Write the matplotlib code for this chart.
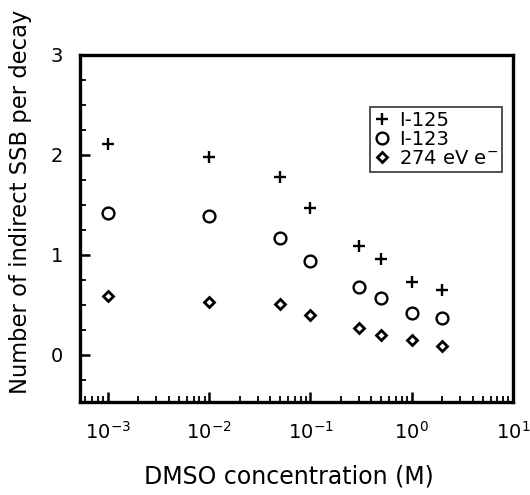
import matplotlib
matplotlib.use("Agg")
import matplotlib.pyplot as plt
from matplotlib.ticker import LogLocator, MultipleLocator, FixedLocator

# DMSO concentration (M)
dmso = [0.001, 0.01, 0.05, 0.1, 0.3, 0.5, 1.0, 2.0]

# indirect SSB per decay
i125 = [2.11, 1.98, 1.78, 1.47, 1.09, 0.96, 0.73, 0.65]
i123 = [1.42, 1.39, 1.17, 0.94, 0.68, 0.57, 0.42, 0.37]
e274 = [0.59, 0.53, 0.51, 0.40, 0.27, 0.20, 0.15, 0.09]

labels = ["I-125", "I-123", "274 eV e$^{-}$"]
yticks = [0, 1, 2, 3]

plt.rcParams["font.family"] = "DejaVu Sans"

fig = plt.figure(figsize=(5.3, 4.95), dpi=100)
ax = fig.add_axes([0.151, 0.188, 0.817, 0.701])

ax.plot(dmso, i125, "+", color="black", markersize=9, markeredgewidth=1.7,
        label=labels[0])
ax.plot(dmso, i123, "o", color="black", markerfacecolor="white",
        markersize=8.5, markeredgewidth=1.7, label=labels[1])
ax.plot(dmso, e274, "D", color="black", markerfacecolor="white",
        markersize=5, markeredgewidth=2.0, label=labels[2])

ax.set_xscale("log")
ax.set_xlim(5.3e-4, 10)
ax.set_ylim(-0.47, 3)

ax.yaxis.set_major_locator(FixedLocator(yticks))
ax.yaxis.set_minor_locator(MultipleLocator(0.25))
ax.xaxis.set_major_locator(LogLocator(base=10, numticks=10))
ax.xaxis.set_minor_locator(LogLocator(base=10, subs=range(2, 10), numticks=20))

for side in ["bottom", "left", "right", "top"]:
    ax.spines[side].set_linewidth(2.4)

ax.tick_params(which="both", direction="in", top=False, right=False,
               labelsize=14)
ax.tick_params(which="major", direction="in", length=7, width=1.8)
ax.tick_params(which="minor", direction="in", length=4, width=1.3)
ax.tick_params(axis="y", which="major", pad=12)
ax.tick_params(axis="x", which="major", pad=14)

ax.set_xlabel("DMSO concentration (M)", fontsize=17)
ax.set_ylabel("Number of indirect SSB per decay", fontsize=16.3)
ax.xaxis.set_label_coords(0.483, -0.18)
ax.yaxis.set_label_coords(-0.11, 0.576)

leg = ax.legend(loc="upper right", bbox_to_anchor=(0.975, 0.850),
                fontsize=14, frameon=True, fancybox=False,
                handlelength=0.8, handletextpad=0.5, labelspacing=0.0,
                borderpad=0.2, borderaxespad=0.0)
leg.get_frame().set_edgecolor("black")
leg.get_frame().set_linewidth(1.2)

fig.savefig("out.png", dpi=100)
